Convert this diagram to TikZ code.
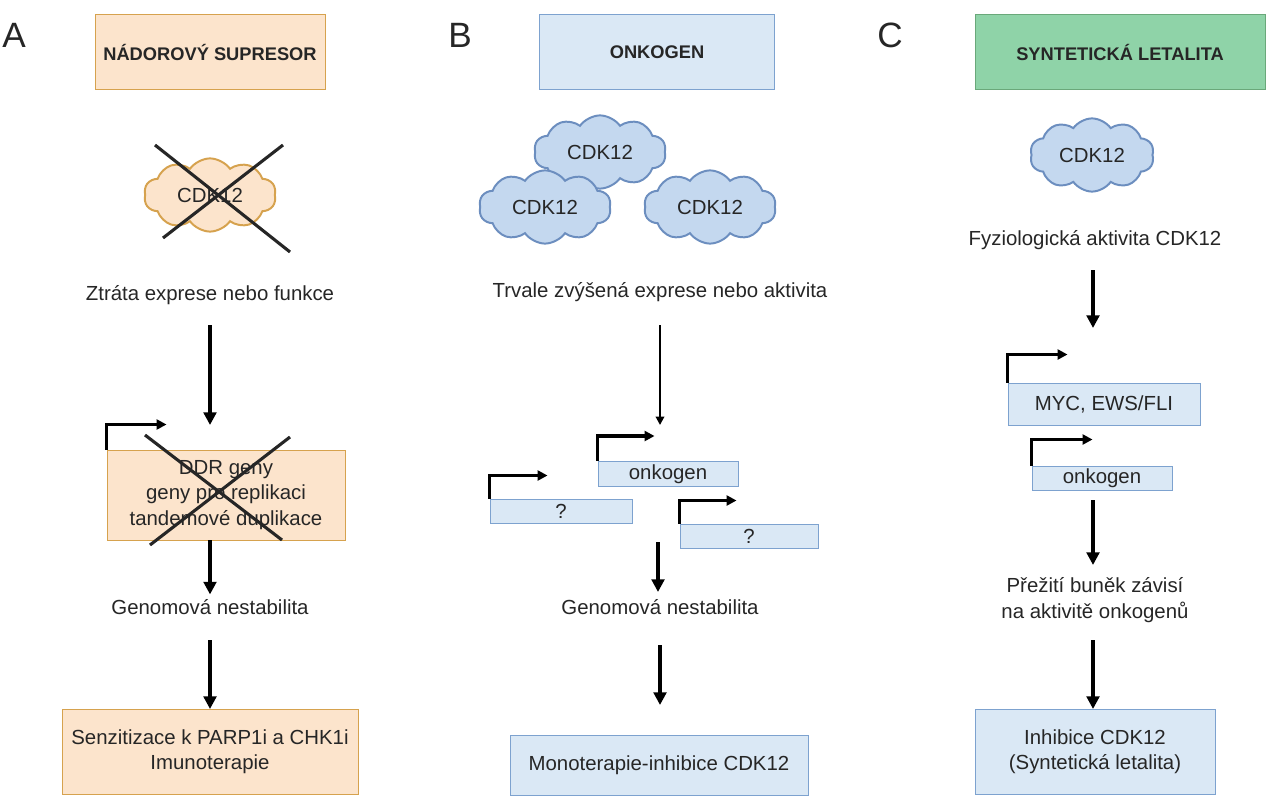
\documentclass[tikz,border=0pt]{standalone}
\usepackage{fontspec}
\setmainfont{Liberation Sans}
\usetikzlibrary{shapes.symbols,arrows.meta}
\definecolor{orfill}{HTML}{FCE4CC}
\definecolor{ordraw}{HTML}{D6A24E}
\definecolor{blfill}{HTML}{DAE8F5}
\definecolor{bldraw}{HTML}{7DA2CF}
\definecolor{clfill}{HTML}{C4D8EF}
\definecolor{cldraw}{HTML}{6C8EBF}
\definecolor{grfill}{HTML}{8FD3A8}
\definecolor{grdraw}{HTML}{6AA87A}
\tikzset{
  txt/.style={align=center, font=\fontsize{14.5}{18}\selectfont, text=black!85},
  box/.style={draw, line width=0.7pt, align=center, font=\fontsize{14.5}{18}\selectfont, text=black!85, inner sep=0pt},
  ttl/.style={box, font=\fontsize{13}{16}\selectfont\bfseries},
  cld/.style={cloud, cloud puffs=10, cloud puff arc=110, aspect=1.8, draw=cldraw, fill=clfill, line width=1.4pt, minimum width=3.3cm, minimum height=1.75cm, font=\fontsize{14.5}{18}\selectfont, text=black!85},
  big/.style={line width=2.8pt, -{Triangle[length=9pt,width=9pt]}},
  thin/.style={line width=1.4pt, -{Triangle[length=6pt,width=6pt]}},
  prom/.style={line width=2.6pt, -{Triangle[length=7pt,width=7pt]}},
  cross/.style={line width=2.2pt, black!85},
  lett/.style={font=\fontsize{25}{28}\selectfont, text=black!85},
}
\begin{document}
\begin{tikzpicture}[x=0.025cm,y=-0.025cm]
  \useasboundingbox[fill=white] (0,0) rectangle (1280,800);
  % A
  \node[lett] (la) at (14,35) {A};
  \node[ttl, draw=ordraw, fill=orfill, minimum width=230*0.025cm, minimum height=75*0.025cm] (ta) at (210,52) {NÁDOROVÝ SUPRESOR};
  \node[cld, draw=ordraw, fill=orfill] (ca) at (210,195) {CDK12};
  \draw[cross] (155,145) -- (290,252);
  \draw[cross] (163,238) -- (283,145);
  \node[txt] (za) at (210,295) {Ztráta exprese nebo funkce};
  \node[box, draw=ordraw, fill=orfill, minimum width=238*0.025cm, minimum height=90*0.025cm] (ga) at (226,495) {DDR geny\\geny pro replikaci\\tandemové duplikace};
  \draw[prom] (ga.north west) -- ++(0,-25) -- ++(60,0);
  \draw[cross] (145,435) -- (282,540);
  \draw[cross] (150,545) -- (290,437);
  \draw[big] (210,325) -- (210,425);
  \node[txt] (na) at (210,607) {Genomová nestabilita};
  \draw[big] (ga.south -| na) -- (na.north);
  \node[box, draw=ordraw, fill=orfill, minimum width=296*0.025cm, minimum height=85*0.025cm] (sa) at (210,752) {Senzitizace k PARP1i a CHK1i\\Imunoterapie};
  \draw[big] (210,640) -- (sa.north);
  % B
  \node[lett] (lb) at (460,35) {B};
  \node[ttl, draw=bldraw, fill=blfill, minimum width=235*0.025cm, minimum height=75*0.025cm] (tb) at (657,52) {ONKOGEN};
  \node[cld] (cb1) at (600,152) {CDK12};
  \node[cld] (cb2) at (545,207) {CDK12};
  \node[cld] (cb3) at (710,207) {CDK12};
  \node[txt] (zb) at (660,292) {Trvale zvýšená exprese nebo aktivita};
  \node[box, draw=bldraw, fill=blfill, minimum width=140*0.025cm, minimum height=25*0.025cm] (ob) at (668,474) {onkogen};
  \node[box, draw=bldraw, fill=blfill, minimum width=142*0.025cm, minimum height=24*0.025cm] (qb1) at (561,511) {?};
  \node[box, draw=bldraw, fill=blfill, minimum width=138*0.025cm, minimum height=24*0.025cm] (qb2) at (749,536) {?};
  \draw[prom] (ob.north west) -- ++(0,-25) -- ++(57,0);
  \draw[prom] (qb1.north west) -- ++(0,-23) -- ++(58,0);
  \draw[prom] (qb2.north west) -- ++(0,-23) -- ++(57,0);
  \draw[thin] (660,325) -- (660,425);
  \node[txt] (nb) at (660,607) {Genomová nestabilita};
  \draw[big] (658,542) -- (658,592);
  \node[box, draw=bldraw, fill=blfill, minimum width=298*0.025cm, minimum height=60*0.025cm] (mb) at (659,765) {Monoterapie-inhibice CDK12};
  \draw[big] (660,645) -- (660,705);
  % C
  \node[lett] (lc) at (890,35) {C};
  \node[ttl, draw=grdraw, fill=grfill, minimum width=290*0.025cm, minimum height=75*0.025cm] (tc) at (1120,52) {SYNTETICKÁ LETALITA};
  \node[cld, minimum width=3.1cm, minimum height=1.65cm] (cc) at (1092,155) {CDK12};
  \node[txt] (zc) at (1095,240) {Fyziologická aktivita CDK12};
  \node[box, draw=bldraw, fill=blfill, minimum width=192*0.025cm, minimum height=42*0.025cm] (mc) at (1104,404) {MYC, EWS/FLI};
  \node[box, draw=bldraw, fill=blfill, minimum width=140*0.025cm, minimum height=24*0.025cm] (oc) at (1102,478) {onkogen};
  \draw[prom] (mc.north west) -- ++(0,-28) -- ++(60,0);
  \draw[prom] (oc.north west) -- ++(0,-26) -- ++(61,0);
  \draw[big] (1093,270) -- (1093,328);
  \node[txt] (pc) at (1095,600) {Přežití buněk závisí\\na aktivitě onkogenů};
  \draw[big] (1093,500) -- (1093,565);
  \node[box, draw=bldraw, fill=blfill, minimum width=240*0.025cm, minimum height=85*0.025cm] (ic) at (1095,752) {Inhibice CDK12\\(Syntetická letalita)};
  \draw[big] (1093,640) -- (1093,709);
\end{tikzpicture}
\end{document}
